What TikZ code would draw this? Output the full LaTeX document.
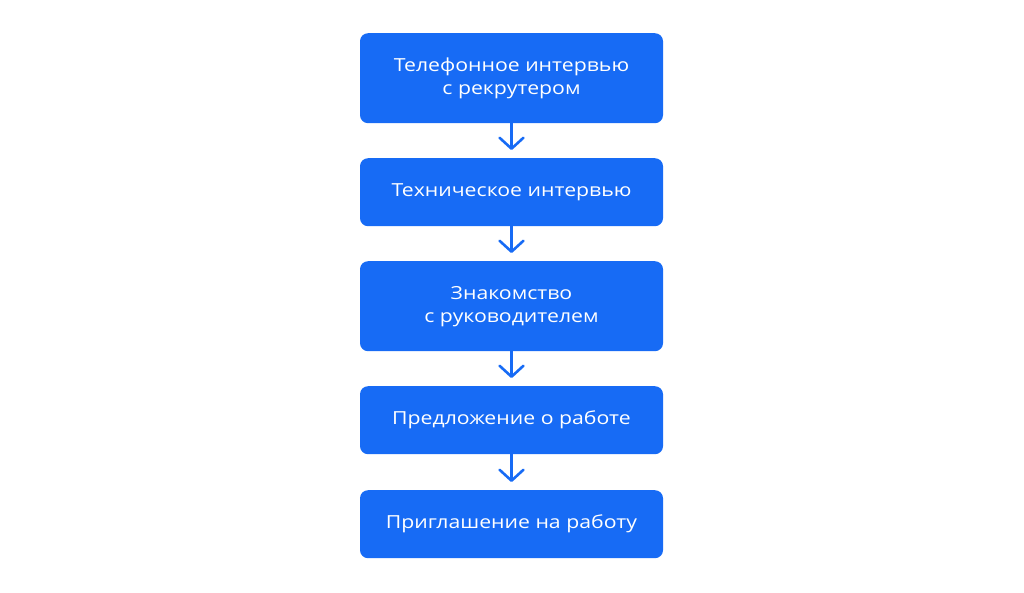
\documentclass[tikz,border=0pt]{standalone}
\usepackage{fontspec}
\setmainfont{Open Sans}[FakeStretch=1.18]
\usetikzlibrary{arrows.meta}
\definecolor{boxblue}{RGB}{23,107,245}
\begin{document}
\begin{tikzpicture}[x=1pt,y=-1pt,
  stepbox/.style={fill=boxblue, rounded corners=8pt, minimum width=303pt, align=center,
    text=white, font=\fontsize{18}{23}\selectfont, inner sep=0pt, anchor=north},
  flow/.style={draw=boxblue, line width=2.6pt, line cap=round, line join=round,
    -{Straight Barb[length=11pt, width=24pt, line width=2.6pt, round]}, shorten >=8pt}]
\useasboundingbox (0,0) rectangle (1024,592);
\node[stepbox, minimum height=90pt] (b1) at (511.5,33) {Телефонное интервью\\с рекрутером};
\node[stepbox, minimum height=68pt] (b2) at (511.5,158) {Техническое интервью};
\node[stepbox, minimum height=90pt] (b3) at (511.5,261) {Знакомство\\с руководителем};
\node[stepbox, minimum height=68pt] (b4) at (511.5,386) {Предложение о работе};
\node[stepbox, minimum height=68pt] (b5) at (511.5,490) {Приглашение на работу};
\draw[flow] (b1) -- (b2);
\draw[flow] (b2) -- (b3);
\draw[flow] (b3) -- (b4);
\draw[flow] (b4) -- (b5);
\end{tikzpicture}
\end{document}
